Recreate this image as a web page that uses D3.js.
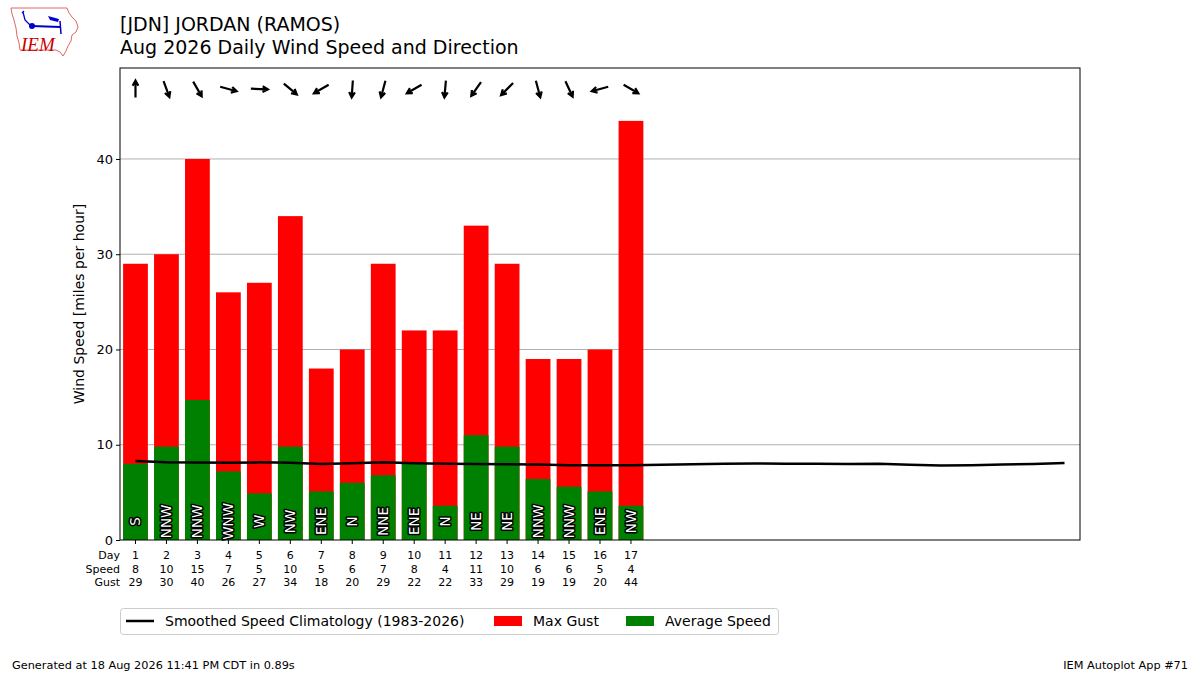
<!DOCTYPE html>
<html>
<head>
<meta charset="utf-8">
<script src="https://cdn.jsdelivr.net/npm/d3@7"></script>
<style>
  body { margin: 0; background: #fff; }
  svg { font-family: "DejaVu Sans", sans-serif; }
</style>
</head>
<body>
<div id="chart"></div>
<script>
// data
var days = [1, 2, 3, 4, 5, 6, 7, 8, 9, 10, 11, 12, 13, 14, 15, 16, 17];
var avgSpeed = [8.0, 9.8, 14.7, 7.2, 4.9, 9.8, 5.1, 6.0, 6.8, 8.1, 3.6, 11.0, 9.8, 6.4, 5.6, 5.1, 3.6];
var speedLabels = [8, 10, 15, 7, 5, 10, 5, 6, 7, 8, 4, 11, 10, 6, 6, 5, 4];
var maxGust = [29, 30, 40, 26, 27, 34, 18, 20, 29, 22, 22, 33, 29, 19, 19, 20, 44];
var dirText = ["S", "NNW", "NNW", "WNW", "W", "NW", "ENE", "N", "NNE", "ENE", "N", "NE", "NE", "NNW", "NNW", "ENE", "NW"];
var dirDeg = [180, 340, 330, 285, 272, 310, 60, 4, 15, 60, 5, 35, 45, 345, 335, 75, 300];
var climoDays = d3.range(1, 32);
var climoSpeed = [8.30, 8.17, 8.13, 8.12, 8.15, 8.12, 7.98, 8.07, 8.15, 8.05, 8.00, 7.97, 7.95, 7.92, 7.85, 7.84,
                  7.86, 7.90, 7.95, 8.00, 8.04, 8.00, 8.00, 7.98, 8.00, 7.90, 7.82, 7.85, 7.93, 7.97, 8.08];
var yTicks = [0, 10, 20, 30, 40];

var W = 1200, H = 675;
var margin = {top: 68, right: 120, bottom: 135, left: 120};

var svg = d3.select("#chart").append("svg")
    .attr("width", W)
    .attr("height", H);

var x = d3.scaleLinear().domain([0.5, 31.5]).range([margin.left, W - margin.right]);
var y = d3.scaleLinear().domain([0, 49.55]).range([H - margin.bottom, margin.top]);
var bw = (x(2) - x(1)) * 0.8;

// grid
svg.append("g")
  .selectAll("line")
  .data(yTicks.slice(1))
  .enter().append("line")
    .attr("x1", x(0.5)).attr("x2", x(31.5))
    .attr("y1", function(d) { return y(d); })
    .attr("y2", function(d) { return y(d); })
    .style("stroke", "#b0b0b0")
    .style("stroke-width", 1);

// gust bars then average speed on top
svg.append("g").selectAll("rect")
  .data(days)
  .enter().append("rect")
    .attr("x", function(d) { return x(d) - bw / 2; })
    .attr("y", function(d, i) { return y(maxGust[i]); })
    .attr("width", bw)
    .attr("height", function(d, i) { return y(0) - y(maxGust[i]); })
    .style("fill", "#ff0000");

svg.append("g").selectAll("rect")
  .data(days)
  .enter().append("rect")
    .attr("x", function(d) { return x(d) - bw / 2; })
    .attr("y", function(d, i) { return y(avgSpeed[i]); })
    .attr("width", bw)
    .attr("height", function(d, i) { return y(0) - y(avgSpeed[i]); })
    .style("fill", "#008000");

// climatology line
var line = d3.line()
  .x(function(d, i) { return x(climoDays[i]); })
  .y(function(d) { return y(d); });
svg.append("path")
  .datum(climoSpeed)
  .attr("d", line)
  .style("fill", "none")
  .style("stroke", "#000")
  .style("stroke-width", 2.5);

// direction text in bars
svg.append("g").selectAll("text")
  .data(days)
  .enter().append("text")
    .attr("transform", function(d) { return "translate(" + x(d) + "," + y(1.95) + ") rotate(-90)"; })
    .attr("text-anchor", "middle")
    .attr("dominant-baseline", "central")
    .style("font-size", "13.5px")
    .style("fill", "#fff")
    .style("stroke", "#000")
    .style("stroke-width", 3)
    .style("stroke-linejoin", "round")
    .style("paint-order", "stroke")
    .text(function(d, i) { return dirText[i]; });

// arrows showing where wind is blowing to
var arrowY = 89, L = 17, head = 6;
var ga = svg.append("g");
days.forEach(function(d, i) {
  var t = (dirDeg[i] + 180) * Math.PI / 180;
  var dx = Math.sin(t), dy = -Math.cos(t);
  var cx = x(d), cy = arrowY;
  var x0 = cx - dx * L / 2, y0 = cy - dy * L / 2;
  var x1 = cx + dx * L / 2, y1 = cy + dy * L / 2;
  var a1 = t + Math.PI - 0.5, a2 = t + Math.PI + 0.5;
  var p = "M" + x0 + "," + y0 + "L" + x1 + "," + y1 +
    "M" + (x1 + Math.sin(a1) * head) + "," + (y1 - Math.cos(a1) * head) + "L" + x1 + "," + y1 +
    "L" + (x1 + Math.sin(a2) * head) + "," + (y1 - Math.cos(a2) * head);
  ga.append("path")
    .attr("d", p)
    .style("fill", "none")
    .style("stroke", "#000")
    .style("stroke-width", 2.2)
    .style("stroke-linejoin", "miter");
});

// y axis
var yAxis = svg.append("g")
  .attr("transform", "translate(" + x(0.5) + ",0)")
  .call(d3.axisLeft(y).tickValues(yTicks).tickSize(4).tickPadding(3).tickSizeOuter(0));
yAxis.select(".domain").remove();
yAxis.selectAll("text").style("font-size", "13px").style("font-family", "DejaVu Sans");

svg.append("text")
  .attr("transform", "translate(84," + (y(0) + y(49.55)) / 2 + ") rotate(-90)")
  .attr("text-anchor", "middle")
  .style("font-size", "14px")
  .text("Wind Speed [miles per hour]");

// x ticks
svg.append("g").selectAll("line")
  .data(days)
  .enter().append("line")
    .attr("x1", function(d) { return x(d); })
    .attr("x2", function(d) { return x(d); })
    .attr("y1", y(0)).attr("y2", y(0) + 4)
    .style("stroke", "#000");

// table under the axis
var rows = [
  {name: "Day", vals: days, yy: 555},
  {name: "Speed", vals: speedLabels, yy: 569},
  {name: "Gust", vals: maxGust, yy: 582}
];
rows.forEach(function(r) {
  svg.append("text")
    .attr("x", 120).attr("y", r.yy)
    .attr("text-anchor", "end")
    .attr("dominant-baseline", "central")
    .style("font-size", "11px")
    .text(r.name);
  svg.append("g").selectAll("text")
    .data(r.vals)
    .enter().append("text")
      .attr("x", function(d, i) { return x(days[i]); })
      .attr("y", r.yy)
      .attr("text-anchor", "middle")
      .attr("dominant-baseline", "central")
      .style("font-size", "11px")
      .text(function(d) { return d; });
});

// frame
svg.append("rect")
  .attr("x", x(0.5)).attr("y", y(49.55))
  .attr("width", x(31.5) - x(0.5))
  .attr("height", y(0) - y(49.55))
  .style("fill", "none")
  .style("stroke", "#000")
  .style("stroke-width", 1);

// titles
svg.append("text").attr("x", 120).attr("y", 31).style("font-size", "19px").text("[JDN] JORDAN (RAMOS)");
svg.append("text").attr("x", 120).attr("y", 54).style("font-size", "19px").text("Aug 2026 Daily Wind Speed and Direction");

// legend
var lg = svg.append("g");
lg.append("rect")
  .attr("x", 120.5).attr("y", 608.5).attr("width", 658).attr("height", 26).attr("rx", 3)
  .style("fill", "#fff").style("stroke", "#cccccc");
lg.append("line").attr("x1", 126).attr("x2", 154).attr("y1", 621).attr("y2", 621)
  .style("stroke", "#000").style("stroke-width", 2.5);
lg.append("text").attr("x", 165).attr("y", 621).attr("dominant-baseline", "central")
  .style("font-size", "14px").text("Smoothed Speed Climatology (1983-2026)");
lg.append("rect").attr("x", 494).attr("y", 616).attr("width", 28).attr("height", 10).style("fill", "#ff0000");
lg.append("text").attr("x", 533).attr("y", 621).attr("dominant-baseline", "central")
  .style("font-size", "14px").text("Max Gust");
lg.append("rect").attr("x", 626).attr("y", 616).attr("width", 28).attr("height", 10).style("fill", "#008000");
lg.append("text").attr("x", 665).attr("y", 621).attr("dominant-baseline", "central")
  .style("font-size", "14px").text("Average Speed");

// footer
svg.append("text").attr("x", 12).attr("y", 669).style("font-size", "11.3px")
  .text("Generated at 18 Aug 2026 11:41 PM CDT in 0.89s");
svg.append("text").attr("x", 1188).attr("y", 669).attr("text-anchor", "end").style("font-size", "11.3px")
  .text("IEM Autoplot App #71");

// IEM logo
var logo = svg.append("g");
var iowa = [[11,8],[67,8],[69,13],[72,17],[76,21],[78,27],[76,32],[72,35],[71,41],[68,46],[66,51],[63,56],[60,52],[56,50],
            [20,50],[19,43],[17,36],[16,28],[14,20],[12,14]];
logo.append("path")
  .attr("d", d3.line().curve(d3.curveLinearClosed)(iowa))
  .style("fill", "none").style("stroke", "#e06666").style("stroke-width", 1);
logo.append("line").attr("x1", 32).attr("x2", 60).attr("y1", 26).attr("y2", 27)
  .style("stroke", "#0000cc").style("stroke-width", 2);
logo.append("circle").attr("cx", 32).attr("cy", 26).attr("r", 3).style("fill", "#0000cc");
logo.append("path").attr("d", "M48,16L59,19L58,22L50,20Z").style("fill", "#0000cc");
logo.append("line").attr("x1", 60).attr("x2", 61).attr("y1", 21).attr("y2", 34)
  .style("stroke", "#0000cc").style("stroke-width", 1.5);
logo.append("path").attr("d", "M22,13L24,11M23,12L25,20L30,25").style("fill", "none")
  .style("stroke", "#0000cc").style("stroke-width", 1.3);
logo.append("text").attr("x", 21).attr("y", 51)
  .style("font-family", "Liberation Serif").style("font-style", "italic")
  .style("font-size", "19px").style("fill", "#cc0000").text("IEM");
</script>
</body>
</html>
